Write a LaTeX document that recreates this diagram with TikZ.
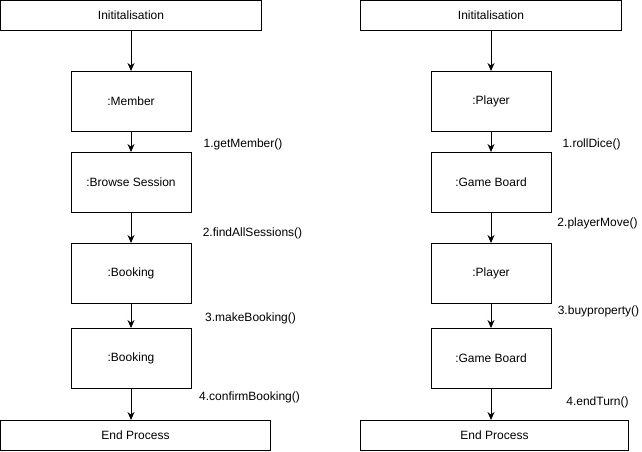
\documentclass[tikz,border=0pt]{standalone}
\usepackage{fontspec}
\setmainfont{Liberation Sans}
\usetikzlibrary{arrows.meta,positioning}

\begin{document}
\begin{tikzpicture}[
    x=1pt, y=1pt,
    font=\fontsize{12}{14}\selectfont,
    wide/.style={draw, line width=1pt, minimum height=30pt, inner sep=0pt, anchor=north west},
    obj/.style={draw, line width=1pt, minimum width=120pt, minimum height=60pt, inner sep=0pt},
    line/.style={-{Stealth[length=8pt,width=7pt]}, line width=1pt},
    lbl/.style={inner sep=0pt}
  ]
    \useasboundingbox (0,0) rectangle (642,-451);

    % Member booking
    \node[wide, minimum width=261pt] (initA) at (0,0) {Inititalisation};
    \node[obj, below=40pt of initA] (member) {:Member};
    \node[obj, below=20pt of member] (browse) {:Browse Session};
    \node[obj, below=30pt of browse] (bookA) {:Booking};
    \node[obj, below=24pt of bookA] (bookB) {:Booking};
    \node[wide, minimum width=270pt] (endA) at (0,-420) {End Process};

    \draw[line] (initA.south -| member) -- (member);
    \draw[line] (member) -- node[lbl, xshift=112pt, yshift=-2pt]{1.getMember()} (browse);
    \draw[line] (browse) -- node[lbl, xshift=121.5pt, yshift=-5pt]{2.findAllSessions()} (bookA);
    \draw[line] (bookA) -- node[lbl, xshift=119.5pt, yshift=-2pt]{3.makeBooking()} (bookB);
    \draw[line] (bookB) -- node[lbl, xshift=118.5pt, yshift=7pt]{4.confirmBooking()} (bookB |- endA.north);

    % Game turn
    \node[wide, minimum width=261pt] (initB) at (360,0) {Inititalisation};
    \node[obj, below=40pt of initB] (playerA) {:Player};
    \node[obj, below=20pt of playerA] (boardA) {:Game Board};
    \node[obj, below=30pt of boardA] (playerB) {:Player};
    \node[obj, below=24pt of playerB] (boardB) {:Game Board};
    \node[wide, minimum width=268pt] (endB) at (360,-420) {End Process};

    \draw[line] (initB) -- (playerA);
    \draw[line] (playerA) -- node[lbl, xshift=100.5pt, yshift=-2pt]{1.rollDice()} (boardA);
    \draw[line] (boardA) -- node[lbl, xshift=106.5pt, yshift=5pt]{2.playerMove()} (playerB);
    \draw[line] (playerB) -- node[lbl, xshift=107.5pt, yshift=5pt]{3.buyproperty()} (boardB);
    \draw[line] (boardB) -- node[lbl, xshift=106.5pt, yshift=2pt]{4.endTurn()} (boardB |- endB.north);
  \end{tikzpicture}
\end{document}
